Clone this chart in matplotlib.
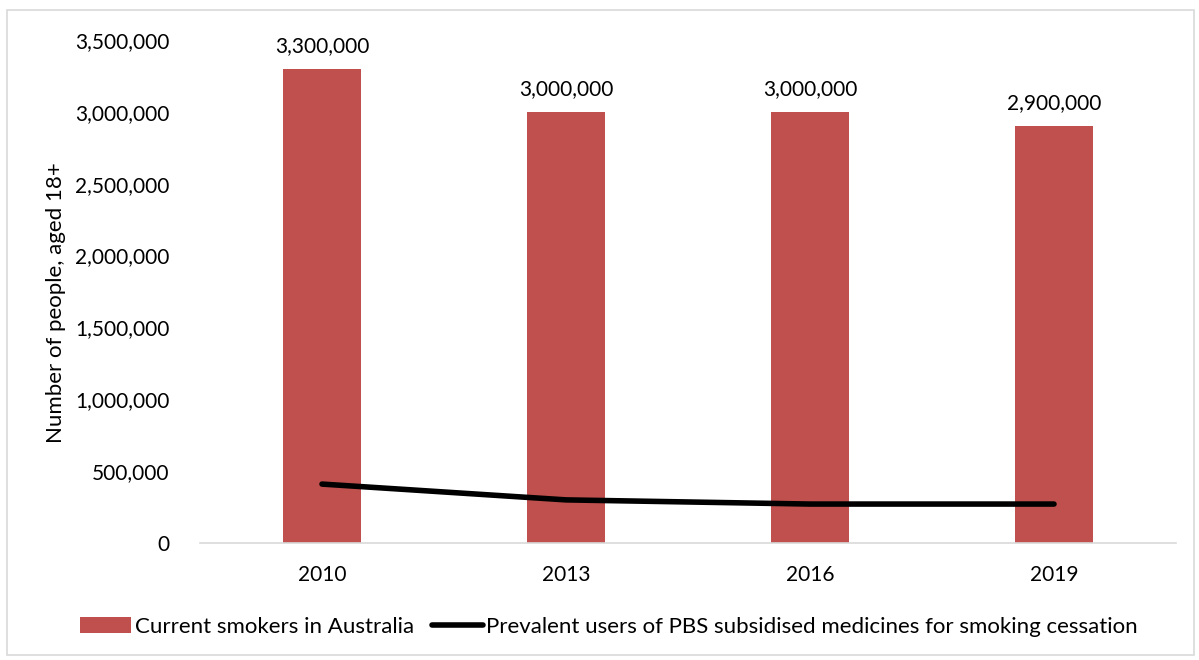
import matplotlib
matplotlib.use("Agg")
import matplotlib.pyplot as plt
from matplotlib.patches import Rectangle
from matplotlib.ticker import FuncFormatter

plt.rcParams['font.family'] = ['Lato', 'DejaVu Sans']

years = ["2010", "2013", "2016", "2019"]
smokers = [3300000, 3000000, 3000000, 2900000]
pbs_users = [410000, 300000, 271000, 271000]
bar_color = "#C0504D"

fig = plt.figure(figsize=(11.99, 6.60), dpi=100)
ax = fig.add_axes([200/1199, 1 - 543/660, 976/1199, 503/660])

x = list(range(len(years)))
bars = ax.bar(x, smokers, width=0.32, color=bar_color, zorder=2,
              label="Current smokers in Australia")
line, = ax.plot(x, pbs_users, color="black", lw=4, solid_capstyle="round", zorder=3,
                label="Prevalent users of PBS subsidised medicines for smoking cessation")

for xi, v in zip(x, smokers):
    ax.text(xi, v + 90000, f"{v:,}", ha="center", va="bottom", fontsize=15)

ax.set_xlim(-0.5, 3.5)
ax.set_ylim(0, 3500000)
ax.set_yticks(range(0, 3500001, 500000))
ax.yaxis.set_major_formatter(FuncFormatter(lambda v, p: f"{int(v):,}"))
ax.set_xticks(x)
ax.set_xticklabels(years)
ax.tick_params(axis="both", length=0, labelsize=15)
ax.tick_params(axis="y", pad=22)
ax.tick_params(axis="x", pad=16)
for s in ["top", "right", "left"]:
    ax.spines[s].set_visible(False)
ax.spines["bottom"].set_color("#D9D9D9")
ax.spines["bottom"].set_linewidth(1.2)

ax.set_ylabel("Number of people, aged 18+", fontsize=16, labelpad=12)
ax.yaxis.set_label_coords(-0.137, 0.477)

leg = fig.legend(handles=[bars, line], loc="center", bbox_to_anchor=(0.508, 1 - 627/660), ncol=2,
                 frameon=False, fontsize=16, handlelength=2.3, handletextpad=0.15,
                 columnspacing=0.8)

fig.patches.append(Rectangle((7/1199, 1 - 655/660), 1187/1199, 645/660,
                             transform=fig.transFigure, fill=False,
                             edgecolor="#D9D9D9", lw=1.2))

fig.savefig("out.png", dpi=100, facecolor="white")
